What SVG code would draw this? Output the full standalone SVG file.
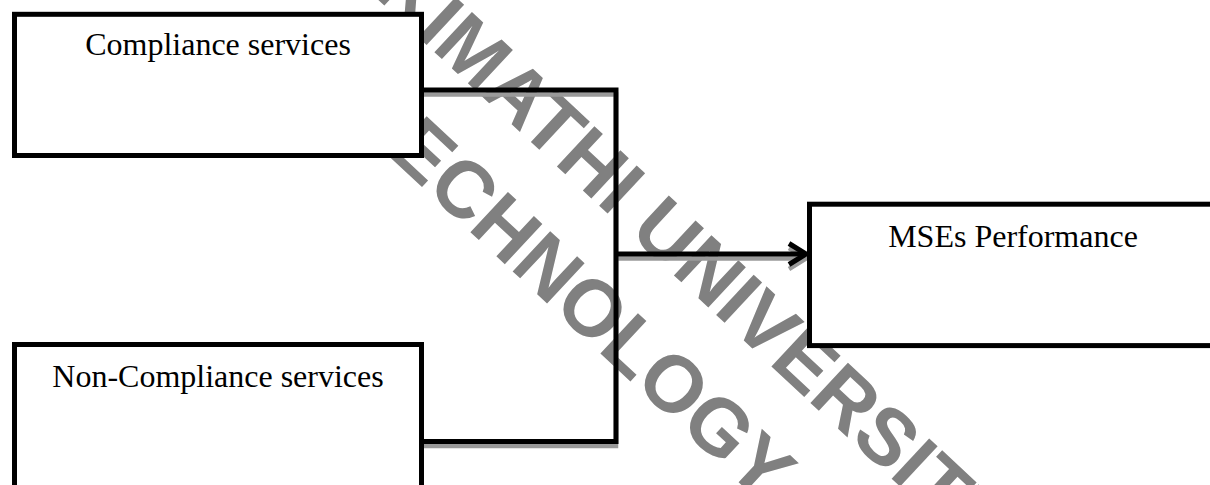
<svg xmlns="http://www.w3.org/2000/svg" width="1210" height="485" viewBox="0 0 1210 485">
<style>
.box{fill:#fff;stroke:#000;stroke-width:5}
.lbl{font-family:"Liberation Serif","Times New Roman",serif;font-size:32px;fill:#000;text-anchor:middle}
.wm{font-family:"Liberation Sans",Arial,sans-serif;font-weight:bold;font-size:80px;fill:#808080}
.conn{fill:none;stroke:#000;stroke-width:5;stroke-linejoin:miter}
.shadow{fill:none;stroke:#9a9a9a;stroke-width:4.5;stroke-linejoin:miter}
</style>
<rect width="1210" height="485" fill="#fff"/>
<g id="watermark" transform="translate(372,-6) rotate(43)">
<text class="wm" x="0" y="0">KIMATHI UNIVERSITY OF</text>
<text class="wm" x="69" y="107">TECHNOLOGY</text>
</g>
<g id="connectors">
<g transform="translate(0,4.5)">
<path class="shadow" d="M424,90 H616 V441.5 H424"/>
<path class="shadow" d="M616,254 H805"/>
<path class="shadow" d="M789,243.5 L806,254 L789,264.5"/>
</g>
<path class="conn" d="M424,90 H616 V441.5 H424"/>
<path class="conn" d="M616,254 H805"/>
<path class="conn" d="M789,243.5 L806,254 L789,264.5"/>
</g>
<g id="compliance">
<rect class="box" x="14.5" y="14.3" width="407" height="141.2"/>
<text class="lbl" x="218" y="55">Compliance services</text>
</g>
<g id="non-compliance">
<rect class="box" x="14.5" y="344.5" width="407" height="200"/>
<text class="lbl" x="218" y="387">Non-Compliance services</text>
</g>
<g id="mses">
<rect class="box" x="809.5" y="204.2" width="500" height="141.4"/>
<text class="lbl" x="1013" y="246.5">MSEs Performance</text>
</g>
</svg>
